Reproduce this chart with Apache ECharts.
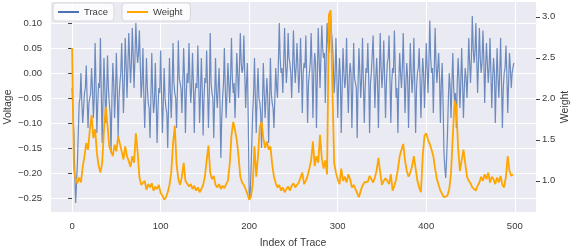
<!DOCTYPE html>
<html><head><meta charset="utf-8">
<script src="https://cdn.jsdelivr.net/npm/echarts@6/dist/echarts.min.js"></script>
<style>html,body{margin:0;padding:0;background:#fff}#c{width:571px;height:246px}</style>
</head><body><div id="c"></div>
<script>
// trace: one value per index 0..499 ; weight: one value per 2nd index 0..498
const TRACE_STEP = 1;
const WEIGHT_STEP = 2;
const traceValues = [
 -0.03,-0.08,-0.12,-0.20,-0.26,-0.22,-0.18,-0.12,-0.06,-0.05,0.0,-0.06,-0.10,-0.07,-0.04,-0.03,0.015,-0.05,-0.11,-0.06,
 -0.05,-0.04,0.01,-0.03,-0.09,-0.05,0.06,-0.02,-0.12,-0.06,-0.02,-0.03,0.07,-0.04,-0.14,-0.05,0.03,-0.03,-0.10,-0.04,
 0.035,-0.03,-0.06,-0.08,-0.16,-0.05,0.02,-0.02,-0.09,-0.04,0.04,-0.03,-0.13,-0.05,-0.02,0.0,0.06,-0.01,-0.08,-0.02,
 0.07,0.02,-0.05,0.01,0.08,0.03,-0.02,0.02,0.09,0.035,-0.03,0.03,0.10,0.05,0.02,0.04,0.085,0.02,-0.05,-0.02,
 0.05,-0.04,-0.11,-0.05,0.03,-0.03,-0.06,-0.07,-0.13,-0.05,0.04,-0.04,-0.08,-0.06,0.02,-0.05,-0.14,-0.07,-0.03,-0.04,
 0.045,-0.04,-0.12,-0.06,0.01,-0.05,-0.07,-0.08,-0.15,-0.06,0.03,-0.04,-0.09,-0.03,0.06,-0.02,-0.04,-0.05,-0.11,-0.03,
 0.065,-0.01,-0.02,-0.03,-0.08,-0.02,0.05,-0.01,-0.12,-0.04,0.0,-0.02,0.06,-0.01,-0.06,-0.03,0.04,-0.02,-0.12,-0.04,
 -0.02,-0.03,0.055,-0.02,-0.10,-0.04,0.03,-0.03,-0.125,-0.05,-0.01,-0.02,0.045,-0.03,-0.11,-0.04,0.08,-0.02,-0.04,-0.05,
 -0.13,-0.05,0.03,-0.04,-0.07,-0.03,0.01,-0.06,-0.17,-0.09,-0.05,-0.02,0.05,-0.03,-0.09,-0.04,0.02,-0.02,-0.06,-0.01,
 0.07,-0.01,-0.04,-0.02,-0.09,-0.03,0.04,0.0,-0.05,0.01,0.08,0.02,0.0,0.01,0.075,0.0,-0.07,-0.02,0.02,-0.10,
 -0.24,-0.25,-0.20,-0.14,-0.08,-0.04,0.03,-0.05,-0.12,-0.04,0.01,-0.05,-0.06,-0.08,-0.15,-0.06,0.02,-0.04,-0.09,-0.05,
 -0.01,-0.05,-0.14,-0.06,0.03,-0.04,-0.06,-0.07,-0.11,-0.05,0.01,-0.03,-0.05,0.02,0.10,0.03,0.0,0.01,-0.04,0.02,
 0.09,0.02,-0.02,0.01,0.08,0.03,0.02,0.0,-0.05,0.01,0.085,0.02,-0.02,0.01,0.06,0.015,-0.04,0.0,0.07,0.01,
 -0.08,0.0,0.02,0.01,0.075,-0.01,-0.10,-0.02,0.0,0.02,0.08,0.01,-0.09,0.0,0.04,0.02,-0.11,-0.01,0.09,0.03,
 -0.03,0.03,0.095,0.05,0.03,0.04,-0.06,0.03,0.10,0.06,0.04,0.07,0.116,0.08,0.06,0.02,-0.04,-0.01,0.07,0.0,
 -0.09,-0.02,0.03,-0.01,-0.12,-0.03,0.05,0.0,-0.03,-0.01,0.07,-0.02,-0.08,-0.01,0.02,0.0,-0.11,-0.03,0.06,-0.01,
 -0.02,-0.03,-0.13,-0.02,0.05,0.0,-0.05,-0.01,0.07,-0.02,-0.10,-0.03,0.01,0.0,0.06,-0.01,-0.12,-0.02,0.0,0.0,
 0.075,0.0,-0.07,-0.01,0.03,-0.02,-0.11,-0.01,0.08,0.01,-0.03,0.0,0.065,-0.01,-0.09,-0.02,0.02,0.03,0.075,-0.01,
 -0.10,-0.02,0.01,0.0,0.085,0.01,-0.05,-0.03,-0.12,-0.02,0.04,0.0,-0.03,0.01,0.08,0.0,-0.08,-0.02,0.02,-0.01,
 -0.11,-0.02,0.06,0.0,-0.04,-0.01,0.07,-0.02,-0.12,-0.03,0.0,0.01,0.05,-0.01,-0.09,-0.02,0.03,0.0,-0.07,-0.01,
 0.06,0.01,-0.04,0.02,0.105,0.03,0.0,0.01,-0.08,0.0,0.09,0.02,-0.02,0.01,0.04,-0.01,-0.10,-0.02,0.02,-0.06,
 -0.16,-0.19,-0.21,-0.17,-0.12,-0.05,0.0,-0.03,-0.09,-0.02,0.04,-0.03,-0.06,-0.04,-0.11,-0.02,0.03,-0.01,-0.07,-0.02,
 0.05,-0.02,-0.09,-0.03,0.01,-0.01,-0.05,0.0,0.07,0.02,-0.02,0.03,0.114,0.05,0.02,0.04,0.10,0.03,-0.04,0.02,
 0.09,0.03,0.0,0.02,0.085,0.03,-0.06,0.01,0.06,0.02,-0.02,0.01,0.07,0.0,-0.07,-0.01,0.03,0.0,-0.10,-0.02,
 0.05,-0.01,-0.05,0.0,0.07,-0.02,-0.11,-0.03,0.0,0.01,0.055,0.0,-0.08,-0.02,0.04,0.01,-0.03,0.0,0.012,0.02
];
const weightValues = [
 2.62,1.15,1.02,0.97,1.04,0.98,1.17,1.30,1.46,1.38,
 1.62,1.80,1.52,1.63,1.34,1.18,1.10,1.22,1.62,1.90,
 1.68,1.42,1.36,1.30,1.44,1.36,1.54,1.45,1.36,1.26,
 1.42,1.30,1.24,1.17,1.30,1.22,1.58,1.36,1.05,0.95,
 0.93,1.00,0.89,0.96,0.92,0.97,0.88,0.93,0.90,0.95,
 0.85,0.82,0.77,0.80,0.86,0.95,1.10,1.45,1.67,1.20,
 1.02,0.95,1.05,1.22,1.00,0.98,0.93,0.96,0.90,0.94,
 0.88,0.92,0.86,0.90,0.95,1.05,1.25,1.43,1.10,1.02,
 1.06,0.95,0.92,0.96,0.90,0.94,0.91,0.96,1.00,1.20,
 1.55,1.72,1.62,1.50,1.30,1.05,0.98,0.95,0.90,0.84,
 0.77,0.80,0.96,1.42,1.05,1.30,1.66,1.72,1.52,1.40,
 1.48,1.38,1.42,1.20,1.05,0.97,0.92,0.95,0.88,0.92,
 0.86,0.90,0.93,0.88,0.94,0.97,0.92,0.95,0.98,0.96,
 1.10,0.96,1.00,1.06,1.15,1.25,1.48,1.18,1.30,1.22,
 1.56,1.28,1.15,1.25,1.08,3.02,3.08,3.10,1.22,1.10,
 1.02,0.96,1.15,1.00,1.05,0.98,1.08,1.02,0.92,0.95,
 0.90,0.85,0.80,0.88,0.94,0.98,1.00,0.99,1.06,1.02,
 0.98,1.04,1.13,1.28,1.10,0.95,1.00,1.03,1.00,0.96,
 1.08,0.88,0.94,1.02,1.14,1.30,1.38,1.45,1.25,1.12,
 1.05,1.10,1.18,1.30,1.15,1.00,0.92,0.86,1.30,1.55,
 1.58,1.50,1.45,1.38,1.30,1.15,1.02,0.95,0.88,0.84,
 0.80,0.78,0.82,0.90,1.10,1.55,1.98,1.90,1.40,1.12,
 1.25,1.38,1.40,1.05,1.00,0.97,0.92,0.90,0.88,0.94,
 0.98,1.05,1.00,1.08,1.02,1.10,0.98,1.05,1.02,0.96,
 1.04,0.98,1.06,0.95,0.92,1.05,1.30,1.12,1.06,1.08
];
const xTicks = [0, 100, 200, 300, 400, 500];
const voltageTicks = [-0.25, -0.20, -0.15, -0.10, -0.05, 0.00, 0.05, 0.10];
const weightTicks = [1.0, 1.5, 2.0, 2.5, 3.0];

const traceData = traceValues.map((v, k) => [k * TRACE_STEP, v]);
const weightData = weightValues.map((v, k) => [k * WEIGHT_STEP, v]);

const FONT = '"Liberation Sans", Arial, sans-serif';
const TXT = '#3a3a3a';
const minus = s => s.replace('-', '\u2212');

const chart = echarts.init(document.getElementById('c'), null, {renderer: 'canvas'});
chart.setOption({
  animation: false,
  backgroundColor: '#ffffff',
  textStyle: {fontFamily: FONT},
  grid: {left: 50, right: 35, top: 2, bottom: 34, show: true, backgroundColor: '#EAEAF2', borderWidth: 0,
         containLabel: false, outerBoundsMode: 'none'},
  legend: [
    {data: ['Trace'], left: 53, top: 3, itemWidth: 21, itemHeight: 2, itemGap: 6, icon: 'rect',
     backgroundColor: 'rgba(255,255,255,0.8)', borderColor: '#d6d6de', borderWidth: 1, borderRadius: 3,
     padding: [4, 6, 4, 5], textStyle: {fontFamily: FONT, fontSize: 9.5, color: TXT}},
    {data: ['Weight'], left: 122, top: 3, itemWidth: 21, itemHeight: 2, itemGap: 6, icon: 'rect',
     backgroundColor: 'rgba(255,255,255,0.8)', borderColor: '#d6d6de', borderWidth: 1, borderRadius: 3,
     padding: [4, 8, 4, 5], textStyle: {fontFamily: FONT, fontSize: 9.5, color: TXT}}
  ],
  xAxis: {
    type: 'value', min: -24.95, max: 523.95,
    name: 'Index of Trace', nameLocation: 'middle', nameGap: 26, nameMoveOverlap: false,
    nameTextStyle: {fontFamily: FONT, fontSize: 10.5, color: TXT},
    axisLine: {show: false}, axisTick: {show: false},
    axisLabel: {customValues: xTicks, fontFamily: FONT, fontSize: 9.5, color: TXT, margin: 9, formatter: v => String(Math.round(v))},
    splitLine: {show: true, lineStyle: {color: '#ffffff', width: 1}}
  },
  yAxis: [
    {
      type: 'value', min: -0.278, max: 0.142, splitNumber: 8,
      name: 'Voltage', nameLocation: 'middle', nameGap: 36, nameMoveOverlap: false,
      nameTextStyle: {fontFamily: FONT, fontSize: 10.5, color: TXT},
      axisLine: {show: false},
      axisTick: {show: true, customValues: voltageTicks, length: 4, lineStyle: {color: '#444', width: 1}},
      axisLabel: {customValues: voltageTicks, fontFamily: FONT, fontSize: 9.5, color: TXT, margin: 8,
        formatter: v => minus(v.toFixed(2))},
      splitLine: {show: true, lineStyle: {color: '#ffffff', width: 1}}
    },
    {
      type: 'value', min: 0.62, max: 3.18, position: 'right',
      name: 'Weight', nameLocation: 'middle', nameGap: 24, nameMoveOverlap: false,
      nameTextStyle: {fontFamily: FONT, fontSize: 10.5, color: TXT},
      axisLine: {show: false},
      axisTick: {show: true, customValues: weightTicks, length: 4, lineStyle: {color: '#444', width: 1}},
      axisLabel: {customValues: weightTicks, fontFamily: FONT, fontSize: 9.5, color: TXT, margin: 6,
        formatter: v => v.toFixed(1)},
      splitLine: {show: false}
    }
  ],
  series: [
    {name: 'Trace', type: 'line', yAxisIndex: 0, data: traceData, showSymbol: false, symbol: 'none',
     lineStyle: {color: '#4C72B0', width: 1.2, opacity: 0.8}, itemStyle: {color: '#4C72B0'}, z: 2},
    {name: 'Weight', type: 'line', yAxisIndex: 1, data: weightData, showSymbol: false, symbol: 'none',
     lineStyle: {color: '#FFA500', width: 1.8}, itemStyle: {color: '#FFA500'}, z: 3}
  ]
});
</script></body></html>
